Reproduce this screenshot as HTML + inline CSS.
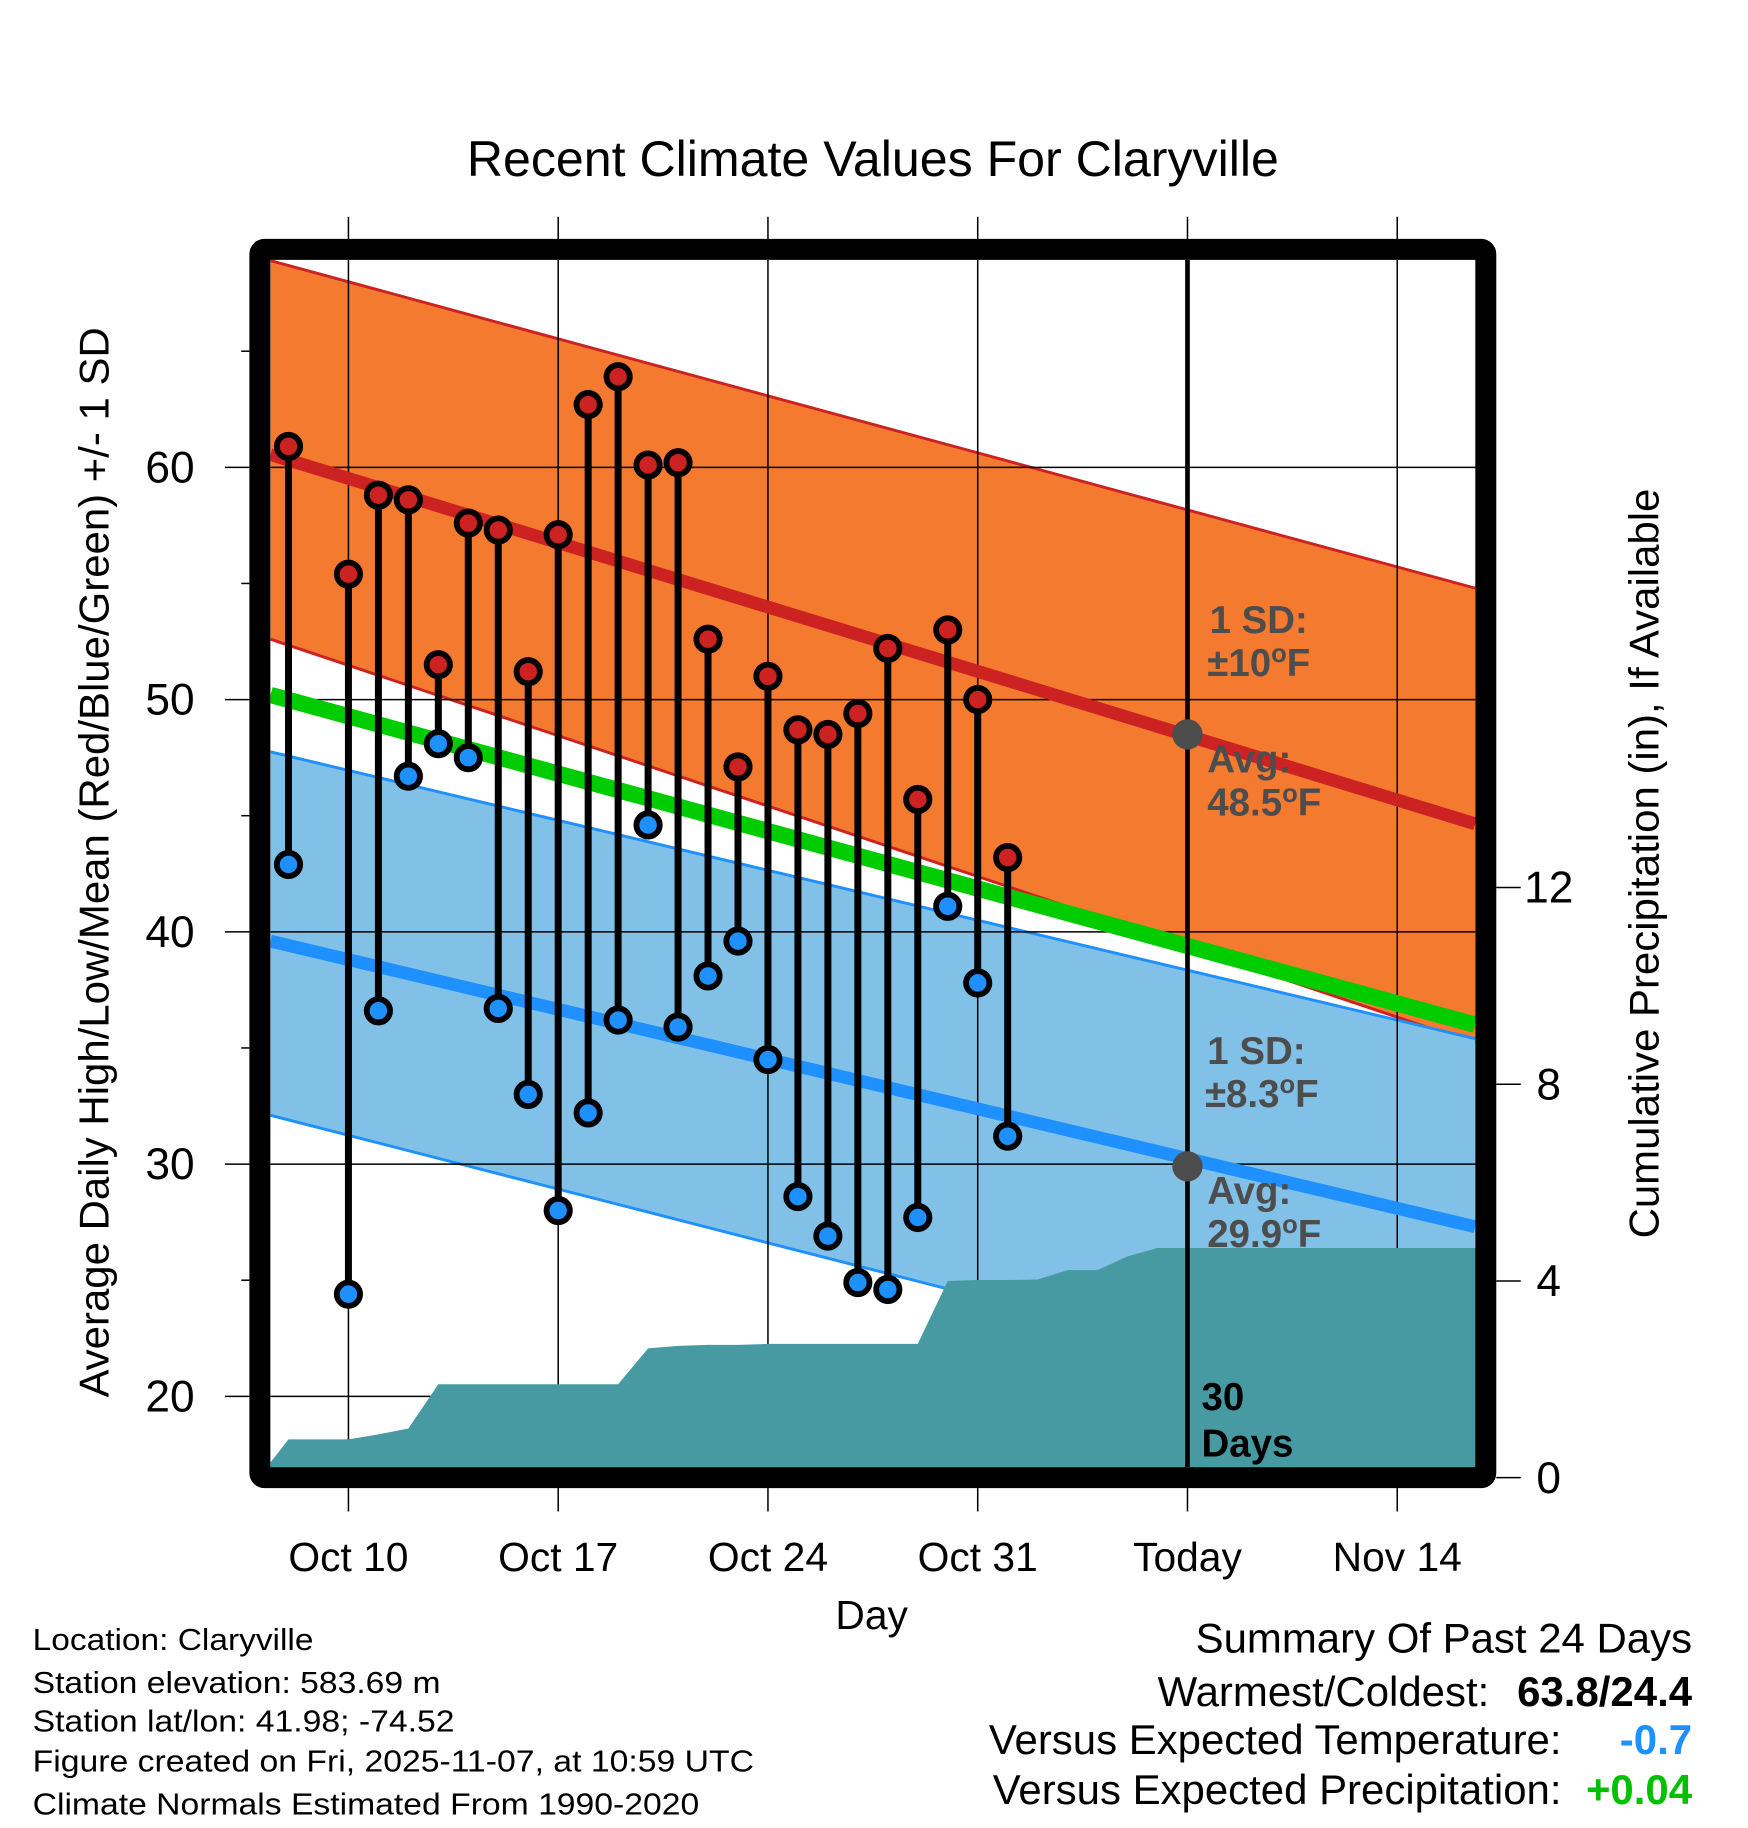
<!DOCTYPE html>
<html><head><meta charset="utf-8"><style>
html,body{margin:0;padding:0;background:#fff;}
svg{display:block;font-family:"Liberation Sans",sans-serif;}
</style></head><body>
<svg id="chart" width="1748" height="1828" viewBox="0 0 1500 1568.6" xmlns="http://www.w3.org/2000/svg">
<rect x="0" y="0" width="1500" height="1568.6" fill="#fff"/>
<g id="bands"></g>
<g id="grid"></g>
<g id="precip"></g>
<g id="means"></g>
<g id="marks"></g>
<g id="frameg"></g>
<g id="axes"></g>
<text x="749" y="151" font-size="43" text-anchor="middle">Recent Climate Values For Claryville</text>
<text x="748" y="1398" font-size="35" text-anchor="middle">Day</text>
<text transform="translate(93,740) rotate(-90)" font-size="36" text-anchor="middle">Average Daily High/Low/Mean (Red/Blue/Green) +/- 1 SD</text>
<text transform="translate(1423,741) rotate(-90)" font-size="36" text-anchor="middle">Cumulative Precipitation (in), If Available</text>
<g font-size="26" fill="#000">
<text x="28" y="1416" textLength="241" lengthAdjust="spacingAndGlyphs">Location: Claryville</text>
<text x="28" y="1453" textLength="350" lengthAdjust="spacingAndGlyphs">Station elevation: 583.69 m</text>
<text x="28" y="1486" textLength="362" lengthAdjust="spacingAndGlyphs">Station lat/lon: 41.98; -74.52</text>
<text x="28" y="1520" textLength="619" lengthAdjust="spacingAndGlyphs">Figure created on Fri, 2025-11-07, at 10:59 UTC</text>
<text x="28" y="1557" textLength="572" lengthAdjust="spacingAndGlyphs">Climate Normals Estimated From 1990-2020</text>
</g>
<g font-size="36">
<text x="1452" y="1418" text-anchor="end">Summary Of Past 24 Days</text>
<text x="1278" y="1464" text-anchor="end">Warmest/Coldest:</text>
<text x="1452" y="1464" text-anchor="end" font-weight="bold">63.8/24.4</text>
<text x="1340" y="1505" text-anchor="end">Versus Expected Temperature:</text>
<text x="1452" y="1505" text-anchor="end" font-weight="bold" fill="#1e90ff">-0.7</text>
<text x="1340" y="1548" text-anchor="end">Versus Expected Precipitation:</text>
<text x="1452" y="1548" text-anchor="end" font-weight="bold" fill="#00c000">+0.04</text>
</g>
</svg>
<script>
// ---- data ----
const obsDays = [-2,0,1,2,3,4,5,6,7,8,9,10,11,12,13,14,15,16,17,18,19,20,21,22];
const highs = [60.9,55.4,58.8,58.6,51.5,57.6,57.3,51.2,57.1,62.7,63.9,60.1,60.2,52.6,47.1,51.0,48.7,48.5,49.4,52.2,45.7,53.0,50.0,43.2];
const lows  = [42.9,24.4,36.6,46.7,48.1,47.5,36.7,33.0,28.0,32.2,36.2,44.6,35.9,38.1,39.6,34.5,28.6,26.9,24.9,24.6,27.7,41.1,37.8,31.2];
const precipDays = [-3,-2,-1,0,1,2,3,4,5,6,7,8,9,10,11,12,13,14,15,16,17,18,19,20,21,22,23,24,25,26,27,28];
const precipCum  = [0,0.78,0.78,0.78,0.88,1.0,1.9,1.9,1.9,1.9,1.9,1.9,1.9,2.63,2.68,2.7,2.7,2.72,2.72,2.72,2.72,2.72,2.72,4.0,4.02,4.02,4.03,4.22,4.22,4.5,4.67,4.67];
const normalDays = [-2.6,37.6];
const highUpper = [68.9,54.8];
const highMean  = [60.55,44.65];
const highLower = [52.6,35.2];
const meanMean  = [50.2,36.0];
const lowUpper  = [47.75,35.4];
const lowMean   = [39.6,27.3];
const lowLower  = [32.1,18.8];
const xTickDays = [0,7,14,21,28,35];
const xTickLabels = ["Oct 10","Oct 17","Oct 24","Oct 31","Today","Nov 14"];
const yTicks = [20,30,40,50,60];
const yMinor = [25,35,45,55,65];
const pTicks = [0,4,8,12];
const todayDay = 28;
const todayHigh = 48.5, todayLow = 29.9;

// ---- axes ----
const X0=232,X1=1267,Y0=223,Y1=1259;
const xs = d => 299 + d*(180/7);
const ys = v => 401 + (60-v)*19.93;
const yp = p => 1268 - p*42.2;
const NS="http://www.w3.org/2000/svg";
function mk(tag, attrs, parent){const e=document.createElementNS(NS,tag);for(const k in attrs)e.setAttribute(k,attrs[k]);parent.appendChild(e);return e;}
const G=id=>document.getElementById(id);

const defs=mk('defs',{},G('chart'));
const cp=mk('clipPath',{id:'plotclip'},defs);
mk('rect',{x:X0,y:Y0,width:X1-X0,height:Y1-Y0},cp);
['bands','grid','precip','means','marks'].forEach(id=>G(id).setAttribute('clip-path','url(#plotclip)'));

function band(up,lo,fill,edge,name){
  const pts=[[xs(normalDays[0]),ys(up[0])],[xs(normalDays[1]),ys(up[1])],[xs(normalDays[1]),ys(lo[1])],[xs(normalDays[0]),ys(lo[0])]];
  const p=mk('polygon',{points:pts.map(a=>a.join(',')).join(' '),fill:fill},G('bands'));
  
  
  [up,lo].forEach(arr=>{
    const l=mk('line',{x1:xs(normalDays[0]),y1:ys(arr[0]),x2:xs(normalDays[1]),y2:ys(arr[1]),stroke:edge,'stroke-width':2.5},G('bands'));
    
    
  });
}
band(highUpper,highLower,'#f47a30','#cc2222','high-sd-band');
band(lowUpper,lowLower,'#82c1e7','#1e90ff','low-sd-band');

xTickDays.forEach(d=>{
  const l=mk('line',{x1:xs(d),y1:Y0,x2:xs(d),y2:Y1,stroke:'#000','stroke-width':1.3},G('grid'));
  
  
});
yTicks.forEach(v=>{
  const l=mk('line',{x1:X0,y1:ys(v),x2:X1,y2:ys(v),stroke:'#000','stroke-width':1.3},G('grid'));
  
  
});

{
  let pts=[[X0,Y1+2]];
  precipDays.forEach((d,i)=>pts.push([xs(d),yp(precipCum[i])]));
  pts.push([X1+5,yp(precipCum[precipCum.length-1])]);
  pts.push([X1+5,Y1+2]);
  const p=mk('polygon',{points:pts.map(a=>a.join(',')).join(' '),fill:'#4799a2'},G('precip'));
  
  
}

function mline(arr,color,w,name){
  const l=mk('line',{x1:xs(normalDays[0]),y1:ys(arr[0]),x2:xs(normalDays[1]),y2:ys(arr[1]),stroke:color,'stroke-width':w},G('means'));
  
  
}
mline(highMean,'#cc2222',11,'mean-high-line');
mline(lowMean,'#1e90ff',11,'mean-low-line');
mline(meanMean,'#00cc00',14,'mean-temp-line');

{
  const l=mk('line',{x1:xs(todayDay),y1:Y0,x2:xs(todayDay),y2:Y1,stroke:'#000','stroke-width':4},G('marks'));
  
  
  const c1=mk('circle',{cx:xs(todayDay),cy:ys(todayHigh),r:13,fill:'#4d4d4d'},G('marks'));
  
  
  const c2=mk('circle',{cx:xs(todayDay),cy:ys(todayLow),r:13,fill:'#4d4d4d'},G('marks'));
  
  
}

obsDays.forEach((d,i)=>{
  const x=xs(d);
  const s=mk('line',{x1:x,y1:ys(highs[i]),x2:x,y2:ys(lows[i]),stroke:'#000','stroke-width':6},G('marks'));
  
  
});
obsDays.forEach((d,i)=>{
  const x=xs(d);
  const h=mk('circle',{cx:x,cy:ys(highs[i]),r:10,fill:'#cc2222',stroke:'#000','stroke-width':5},G('marks'));
  
  
  const lo=mk('circle',{cx:x,cy:ys(lows[i]),r:10,fill:'#1e90ff',stroke:'#000','stroke-width':5},G('marks'));
  
  
});

function lab(x,y,t,name,fill,deg){
  const e=mk('text',{x:x,y:y,'font-size':33,'font-weight':'bold',fill:fill||'#4d4d4d'},G('marks'));
  
  
  if(deg){
    const parts=t.split('|');
    e.appendChild(document.createTextNode(parts[0]));
    const s=document.createElementNS(NS,'tspan');
    s.setAttribute('dy','-12');s.setAttribute('font-size','22');s.textContent='o';
    e.appendChild(s);
    const s2=document.createElementNS(NS,'tspan');
    s2.setAttribute('dy','12');s2.textContent=parts[1];
    e.appendChild(s2);
  } else e.textContent=t;
}
const tx=xs(todayDay)+17;
lab(tx+2,543,'1 SD:','high-sd-label');
lab(tx,580,'\u00b110|F','high-sd-value',null,true);
lab(tx,663,'Avg:','high-avg-label');
lab(tx,700,'48.5|F','high-avg-value',null,true);
lab(tx,913,'1 SD:','low-sd-label');
lab(tx-2,950,'\u00b18.3|F','low-sd-value',null,true);
lab(tx,1033,'Avg:','low-avg-label');
lab(tx,1070,'29.9|F','low-avg-value',null,true);
lab(tx-5,1210,'30','days-count-label','#000');
lab(tx-5,1250,'Days','days-word-label','#000');

{
  const f=mk('rect',{x:223,y:214,width:1052,height:1054,fill:'none',stroke:'#000','stroke-width':18,rx:4},G('frameg'));
  
  
}

xTickDays.forEach((d,i)=>{
  const x=xs(d);
  const t1=mk('line',{x1:x,y1:186,x2:x,y2:206,stroke:'#000','stroke-width':1.3},G('axes'));
  
  
  const t2=mk('line',{x1:x,y1:1276,x2:x,y2:1297,stroke:'#000','stroke-width':1.3},G('axes'));
  
  
  const e=mk('text',{x:x,y:1348,'font-size':35,'text-anchor':'middle'},G('axes'));
  e.textContent=xTickLabels[i];
  
  
});
yTicks.forEach(v=>{
  const t=mk('line',{x1:193,y1:ys(v),x2:214,y2:ys(v),stroke:'#000','stroke-width':1.3},G('axes'));
  
  
  const e=mk('text',{x:167,y:ys(v)+13,'font-size':38,'text-anchor':'end'},G('axes'));
  e.textContent=v;
  
  
});
yMinor.forEach(v=>{
  const t=mk('line',{x1:207,y1:ys(v),x2:214,y2:ys(v),stroke:'#000','stroke-width':1.3},G('axes'));
  
  
});
pTicks.forEach(p=>{
  const t=mk('line',{x1:1284,y1:yp(p),x2:1305,y2:yp(p),stroke:'#000','stroke-width':1.3},G('axes'));
  
  
  const e=mk('text',{x:1329,y:yp(p)+13,'font-size':38,'text-anchor':'middle'},G('axes'));
  e.textContent=p;
  
  
});
</script>
</body></html>
